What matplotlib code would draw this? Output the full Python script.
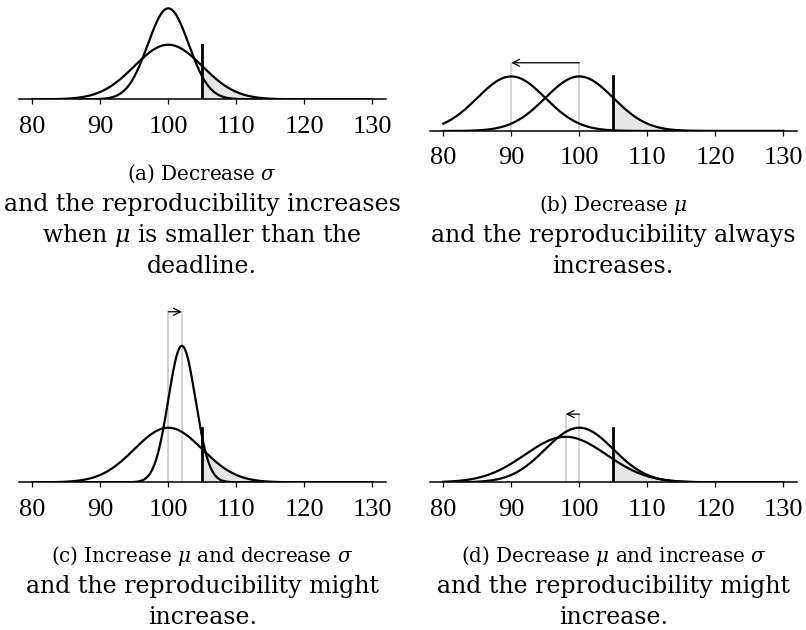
import numpy as np
import matplotlib
matplotlib.use("Agg")
import matplotlib.pyplot as plt

# --------------------------------------------------
# data
# --------------------------------------------------
deadline = 105.0
x_ticks = [80, 90, 100, 110, 120, 130]

# panel (a): decrease sigma
mu_a = [100, 100]
sigma_a = [5, 3]
# panel (b): decrease mu
mu_b = [100, 90]
sigma_b = [5, 5]
# panel (c): increase mu, decrease sigma
mu_c = [100, 102]
sigma_c = [5, 2]
# panel (d): decrease mu, increase sigma
mu_d = [100, 98]
sigma_d = [5, 6]

caption_a = [r"(a) Decrease $\sigma$",
             "and the reproducibility increases",
             r"when $\mu$ is smaller than the",
             "deadline."]
caption_b = [r"(b) Decrease $\mu$",
             "and the reproducibility always",
             "increases."]
caption_c = [r"(c) Increase $\mu$ and decrease $\sigma$",
             "and the reproducibility might",
             "increase."]
caption_d = [r"(d) Decrease $\mu$ and increase $\sigma$",
             "and the reproducibility might",
             "increase."]

# --------------------------------------------------
# style
# --------------------------------------------------
plt.rcParams["font.family"] = ["Liberation Serif", "DejaVu Serif"]
plt.rcParams["mathtext.fontset"] = "custom"
plt.rcParams["mathtext.rm"] = "DejaVu Serif"
plt.rcParams["mathtext.it"] = "DejaVu Serif:italic"

W, H = 806, 630
fig = plt.figure(figsize=(W / 100, H / 100), dpi=100)

PX_PER_UNIT_X = 6.8
PX_PER_DENS = 684.0


def pdf(x, mu, s):
    return np.exp(-0.5 * ((x - mu) / s) ** 2) / (s * np.sqrt(2 * np.pi))


def make_panel(x80, base_y, top_y, mus, sigmas, arrow, caption, cap_baselines):
    left = x80 - 2 * PX_PER_UNIT_X
    width = 54 * PX_PER_UNIT_X
    height = base_y - top_y
    ax = fig.add_axes([left / W, 1 - base_y / H, width / W, height / H])
    ax.set_xlim(78, 132)
    ax.set_ylim(0, height / PX_PER_DENS)
    for s in ["top", "right", "left"]:
        ax.spines[s].set_visible(False)
    ax.spines["bottom"].set_linewidth(1.1)
    ax.set_yticks([])
    ax.set_xticks(x_ticks)
    ax.tick_params(axis="x", direction="out", length=3.8, width=0.9,
                   labelsize=19, pad=8)

    xs = np.linspace(80, 130, 600)
    tail = xs >= deadline
    for mu, s in zip(mus, sigmas):
        ax.fill_between(xs[tail], 0, pdf(xs[tail], mu, s),
                        color="#e6e6e6", lw=0, zorder=1)

    peak = max(pdf(m, m, s) for m, s in zip(mus, sigmas))
    if arrow:
        ya = 1.25 * peak
        ax.plot([mus[0], mus[0]], [0, ya], color="#c8c8c8", lw=1.1, zorder=2)
        ax.plot([mus[1], mus[1]], [0, ya], color="#c8c8c8", lw=1.1, zorder=2)
        ax.annotate("", xy=(mus[1], ya), xytext=(mus[0], ya),
                    arrowprops=dict(arrowstyle="->,head_length=0.5,head_width=0.25",
                                    lw=0.9, color="black",
                                    shrinkA=0, shrinkB=0), zorder=4)

    for mu, s in zip(mus, sigmas):
        ax.plot(xs, pdf(xs, mu, s), color="black", lw=1.6, zorder=3)

    ax.plot([deadline, deadline], [0, pdf(100, 100, 5)], color="black",
            lw=2.0, zorder=4)

    cx = (x80 + 25 * PX_PER_UNIT_X) / W
    for i, (line, yb) in enumerate(zip(caption, cap_baselines)):
        fs = 14.3 if i == 0 else 17
        fig.text(cx, 1 - yb / H, line, ha="center", va="baseline",
                 fontsize=fs, family="DejaVu Serif")
    return ax


make_panel(32.3, 99.3, 0, mu_a, sigma_a, False, caption_a,
           [180, 211, 242, 273])
make_panel(443.3, 131, 0, mu_b, sigma_b, True, caption_b,
           [211, 242, 273])
make_panel(32.3, 482.3, 305, mu_c, sigma_c, True, caption_c,
           [562, 593, 624])
make_panel(443.3, 482.3, 305, mu_d, sigma_d, True, caption_d,
           [562, 593, 624])

plt.savefig("out.png", dpi=100)
